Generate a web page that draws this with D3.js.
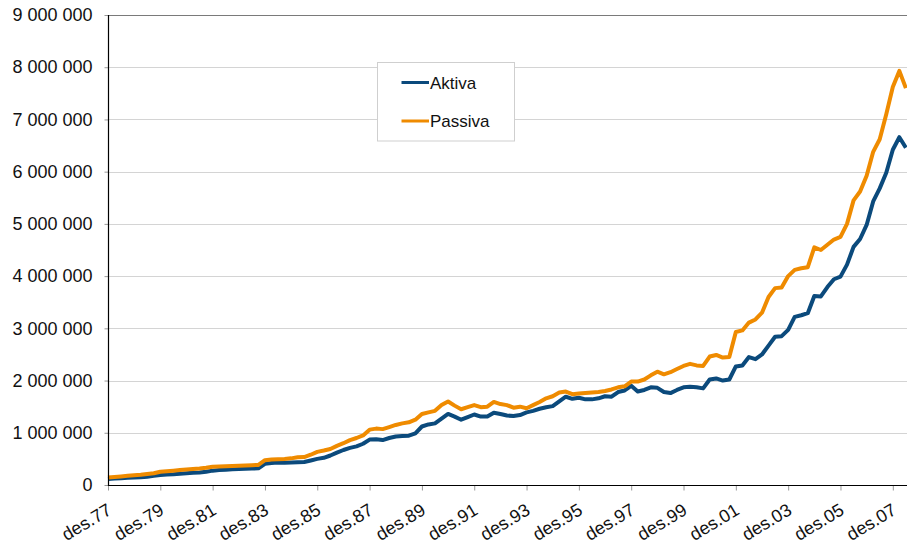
<!DOCTYPE html>
<html>
<head>
<meta charset="utf-8">
<script src="https://cdn.jsdelivr.net/npm/d3@7/dist/d3.min.js"></script>
<style>
  html, body { margin: 0; padding: 0; background: #fff; }
  svg { display: block; }
  text { font-family: "Liberation Sans", Arial, Helvetica, sans-serif; fill: #111; }
</style>
</head>
<body>
<svg id="chart" width="907" height="547"></svg>
<script>
// Quarterly observations, des.77 .. jun.08
const seriesNames = ["Aktiva", "Passiva"];
const seriesColors = ["#0b4a7c", "#ef8b00"];
const aktiva = [
  0.115, 0.125, 0.13, 0.14, 0.145, 0.15, 0.16, 0.175, 0.19, 0.20,
  0.205, 0.215, 0.225, 0.235, 0.24, 0.255, 0.275, 0.285, 0.29, 0.30,
  0.305, 0.31, 0.315, 0.32, 0.405, 0.42, 0.43, 0.425, 0.43, 0.435,
  0.44, 0.47, 0.50, 0.52, 0.565, 0.62, 0.67, 0.71, 0.74, 0.79,
  0.87, 0.875, 0.86, 0.90, 0.93, 0.94, 0.945, 0.99, 1.12, 1.16,
  1.18, 1.27, 1.36, 1.31, 1.25, 1.30, 1.35, 1.31, 1.31, 1.385,
  1.36, 1.33, 1.32, 1.34, 1.39, 1.42, 1.46, 1.49, 1.51, 1.60,
  1.69, 1.65, 1.67, 1.64, 1.64, 1.66, 1.70, 1.69, 1.78, 1.81,
  1.90, 1.79, 1.82, 1.87, 1.86, 1.78, 1.76, 1.82, 1.87, 1.88,
  1.87, 1.85, 2.02, 2.04, 2.00, 2.02, 2.27, 2.29, 2.45, 2.41,
  2.50, 2.67, 2.84, 2.85, 2.97, 3.22, 3.25, 3.29, 3.62, 3.61,
  3.79, 3.94, 3.99, 4.22, 4.56, 4.71, 4.98, 5.43, 5.68, 5.98,
  6.42, 6.66, 6.46
];
const passiva = [
  0.145, 0.155, 0.165, 0.175, 0.185, 0.195, 0.21, 0.225, 0.255, 0.265,
  0.275, 0.285, 0.295, 0.305, 0.315, 0.33, 0.35, 0.355, 0.36, 0.365,
  0.37, 0.375, 0.38, 0.385, 0.475, 0.49, 0.495, 0.50, 0.51, 0.53,
  0.535, 0.58, 0.635, 0.66, 0.69, 0.75, 0.80, 0.86, 0.90, 0.95,
  1.06, 1.08, 1.07, 1.11, 1.15, 1.18, 1.20, 1.25, 1.36, 1.39,
  1.42, 1.53, 1.60, 1.52, 1.45, 1.49, 1.53, 1.49, 1.50, 1.59,
  1.55, 1.53, 1.48, 1.50, 1.47, 1.53, 1.59, 1.66, 1.70, 1.77,
  1.79, 1.74, 1.75, 1.76, 1.77, 1.78, 1.80, 1.83, 1.87, 1.89,
  1.98, 1.98, 2.02, 2.10, 2.17, 2.12, 2.16, 2.22, 2.28, 2.32,
  2.29, 2.28, 2.46, 2.49, 2.44, 2.45, 2.93, 2.96, 3.11, 3.17,
  3.30, 3.60, 3.77, 3.78, 4.00, 4.12, 4.15, 4.17, 4.55, 4.50,
  4.60, 4.70, 4.75, 5.00, 5.45, 5.62, 5.92, 6.38, 6.62, 7.10,
  7.62, 7.93, 7.60
];
const valueUnit = 1e6;
const xTickLabels = ["des.77","des.79","des.81","des.83","des.85","des.87","des.89","des.91",
                     "des.93","des.95","des.97","des.99","des.01","des.03","des.05","des.07"];
const xTickStep = 8; // quarters between labelled ticks
const yTicks = [0, 1e6, 2e6, 3e6, 4e6, 5e6, 6e6, 7e6, 8e6, 9e6];

(function () {
const svg = d3.select("#chart");
const pLeft = 108, pTop = 15, pBottom = 485, step = 6.54;
const n = aktiva.length;

const x = d3.scaleLinear().domain([0, n - 1]).range([pLeft, pLeft + step * (n - 1)]);
const y = d3.scaleLinear().domain([0, 9e6]).range([pBottom, pTop]);

const locale = d3.formatLocale({decimal: ",", thousands: "\u00a0", grouping: [3], currency: ["", ""]});
const fmt = locale.format(",d");

// gridlines
svg.append("g").selectAll("line")
  .data(yTicks.filter(d => d > 0 && d < 9e6))
  .join("line")
  .attr("x1", pLeft).attr("x2", 907)
  .attr("y1", d => Math.round(y(d)) + 0.5).attr("y2", d => Math.round(y(d)) + 0.5)
  .attr("stroke", "#d4d4d4").attr("stroke-width", 1);
// top frame
svg.append("line")
  .attr("x1", pLeft).attr("x2", 907)
  .attr("y1", Math.round(y(9e6)) + 0.5).attr("y2", Math.round(y(9e6)) + 0.5)
  .attr("stroke", "#7a7a7a").attr("stroke-width", 1);

// y axis
const yAxis = d3.axisLeft(y).tickValues(yTicks).tickSize(4).tickPadding(12).tickFormat(fmt);
const gy = svg.append("g").attr("transform", `translate(${pLeft + 0.5},0)`).call(yAxis);
gy.select(".domain").remove();
gy.selectAll(".tick line").attr("stroke", "#999");
gy.selectAll(".tick text").attr("font-size", 18).style("font-family", "'Liberation Sans', Arial, sans-serif").attr("fill", "#111");

// x axis
const tickIdx = xTickLabels.map((_, i) => i * xTickStep);
const xAxis = d3.axisBottom(x).tickValues(tickIdx).tickSize(5)
  .tickFormat((d, i) => xTickLabels[i]);
const gx = svg.append("g").attr("transform", `translate(0,${pBottom + 0.5})`).call(xAxis);
gx.select(".domain").remove();
gx.selectAll(".tick line").attr("stroke", "#999");
gx.selectAll(".tick text")
  .attr("font-size", 18).style("font-family", "'Liberation Sans', Arial, sans-serif").attr("fill", "#111")
  .attr("text-anchor", "end")
  .attr("transform", "translate(-4,14) rotate(-31)")
  .attr("y", 0).attr("dy", "0.9em").attr("x", 0);

// series lines
const line = d3.line().x((d, i) => x(i)).y(d => y(d * valueUnit));
[aktiva, passiva].forEach((s, k) => {
  svg.append("path").datum(s)
    .attr("d", line)
    .attr("fill", "none")
    .attr("stroke", seriesColors[k])
    .attr("stroke-width", 4)
    .attr("stroke-linejoin", "round");
});

// axis lines on top
svg.append("line").attr("x1", pLeft + 0.5).attr("x2", pLeft + 0.5).attr("y1", pTop).attr("y2", pBottom + 1)
  .attr("stroke", "#000").attr("stroke-width", 1.2);
svg.append("line").attr("x1", pLeft).attr("x2", 907).attr("y1", pBottom + 0.5).attr("y2", pBottom + 0.5)
  .attr("stroke", "#000").attr("stroke-width", 1.2);

// legend
const lg = svg.append("g");
lg.append("rect").attr("x", 377.5).attr("y", 62.5).attr("width", 137).attr("height", 78.5)
  .attr("fill", "#fff").attr("stroke", "#cfcfcf").attr("stroke-width", 1);
seriesNames.forEach((name, k) => {
  const yy = 82.5 + k * 38.5;
  lg.append("line").attr("x1", 401.5).attr("x2", 429).attr("y1", yy).attr("y2", yy)
    .attr("stroke", seriesColors[k]).attr("stroke-width", 3);
  lg.append("text").attr("x", 430).attr("y", yy + 6).attr("font-size", 17).text(name);
});
})();
</script>
</body>
</html>
